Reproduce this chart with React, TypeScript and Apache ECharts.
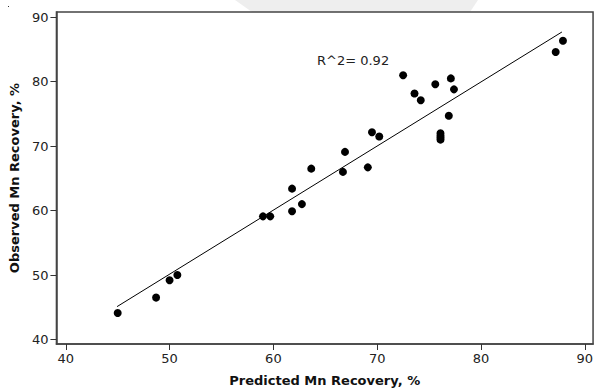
import React, { useEffect, useRef } from "react";
import * as echarts from "echarts";

const predicted = [45.0, 48.7, 50.0, 50.75, 59.0, 59.7, 61.8, 61.8, 62.75, 63.65, 66.7, 66.9, 69.1, 69.5, 70.2, 72.5, 73.6, 74.2, 75.6, 77.1, 77.4, 76.9, 76.1, 76.1, 76.1, 76.1, 87.2, 87.9];
const observed = [44.1, 46.5, 49.2, 50.0, 59.1, 59.1, 59.9, 63.4, 61.0, 66.5, 66.0, 69.1, 66.7, 72.15, 71.5, 81.0, 78.15, 77.1, 79.6, 80.5, 78.8, 74.7, 72.0, 71.6, 71.3, 71.0, 84.6, 86.35];
const fitX = [44.94, 87.8];
const fitY = [45.1, 87.7];
const tickValues = [40, 50, 60, 70, 80, 90];
const xTitle = "Predicted Mn Recovery, %";
const yTitle = "Observed Mn Recovery, %";
const rSquaredLabel = "R^2= 0.92";

export default function App() {
  const ref = useRef<HTMLDivElement>(null);
  useEffect(() => {
    if (!ref.current) return;
    const chart = echarts.init(ref.current, null, { renderer: "svg" });
    const font = "'DejaVu Sans', Tahoma, sans-serif";
    const axisCommon = {
      type: "value" as const,
      splitLine: { show: false },
      axisLine: { show: true, lineStyle: { color: "#444", width: 1.5 } },
      axisTick: { show: true, length: 6, lineStyle: { color: "#333" }, customValues: tickValues },
      axisLabel: { customValues: tickValues, color: "#222", fontSize: 13, fontFamily: font },
      nameLocation: "middle" as const,
      nameTextStyle: { fontWeight: "bold" as const, fontSize: 13, color: "#111", fontFamily: font },
    };
    chart.setOption({
      animation: false,
      backgroundColor: "#fff",
      grid: {
        left: 55, top: 12, right: 1, bottom: 45,
        show: true, borderColor: "#444", borderWidth: 1.5, backgroundColor: "#fff",
      },
      xAxis: { ...axisCommon, min: 39.1, max: 90.8, name: xTitle, nameGap: 30 },
      yAxis: { ...axisCommon, min: 39.3, max: 90.8, name: yTitle, nameGap: 30 },
      graphic: [
        { type: "polygon", z: -10, shape: { points: [[235, 0], [478, 0], [470, 12], [252, 12]] }, style: { fill: "#eeeeee" } },
        { type: "rect", shape: { x: 8, y: 6, width: 1, height: 1 }, style: { fill: "#333" } },
        { type: "text", x: 317, y: 60, style: { text: rSquaredLabel, fontSize: 13, fontFamily: font, fill: "#222", verticalAlign: "middle" } },
      ],
      series: [
        {
          type: "line",
          data: fitX.map((x, i) => [x, fitY[i]]),
          symbol: "none",
          lineStyle: { color: "#000", width: 1 },
          z: 2,
        },
        {
          type: "scatter",
          data: predicted.map((x, i) => [x, observed[i]]),
          symbolSize: 8,
          itemStyle: { color: "#000", opacity: 1 },
          z: 3,
        },
      ],
    });
    return () => chart.dispose();
  }, []);
  return <div ref={ref} style={{ position: "fixed", left: 0, top: 0, width: 596, height: 392 }} />;
}
